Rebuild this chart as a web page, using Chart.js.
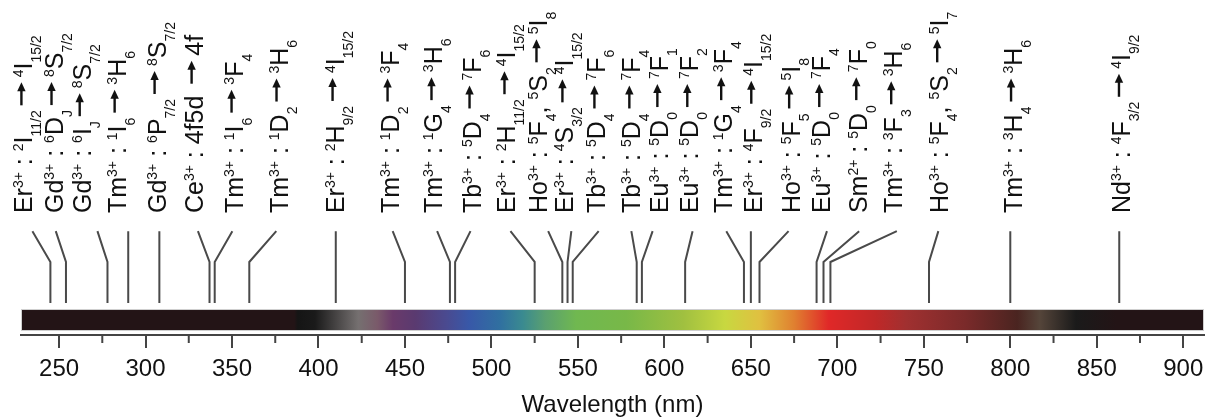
<!DOCTYPE html>
<html>
<head>
<meta charset="utf-8">
<title>Emission lines across the spectrum</title>
<script src="https://cdn.jsdelivr.net/npm/chart.js@4.4.1/dist/chart.umd.min.js"></script>
<style>
  html, body { margin: 0; padding: 0; background: #fff; }
  #wrap { width: 1205px; height: 420px; }
</style>
</head>
<body>
<div id="wrap"><canvas id="spectrum" width="1205" height="420"></canvas></div>
<script>
'use strict';

// ---- data ---------------------------------------------------------------
// ^{..} = superscript, _{..} = subscript
const transitionLabels = [
    'Er^{3+} : ^{2}I_{11/2} → ^{4}I_{15/2}',
    'Gd^{3+} : ^{6}D_{J} → ^{8}S_{7/2}',
    'Gd^{3+} : ^{6}I_{J} → ^{8}S_{7/2}',
    'Tm^{3+} : ^{1}I_{6} → ^{3}H_{6}',
    'Gd^{3+} : ^{6}P_{7/2} → ^{8}S_{7/2}',
    'Ce^{3+} : 4f5d → 4f',
    'Tm^{3+} : ^{1}I_{6} → ^{3}F_{4}',
    'Tm^{3+} : ^{1}D_{2} → ^{3}H_{6}',
    'Er^{3+} : ^{2}H_{9/2} → ^{4}I_{15/2}',
    'Tm^{3+} : ^{1}D_{2} → ^{3}F_{4}',
    'Tm^{3+} : ^{1}G_{4} → ^{3}H_{6}',
    'Tb^{3+} : ^{5}D_{4} → ^{7}F_{6}',
    'Er^{3+} : ^{2}H_{11/2} → ^{4}I_{15/2}',
    'Ho^{3+} : ^{5}F_{4}, ^{5}S_{2} → ^{5}I_{8}',
    'Er^{3+} : ^{4}S_{3/2} → ^{4}I_{15/2}',
    'Tb^{3+} : ^{5}D_{4} → ^{7}F_{6}',
    'Tb^{3+} : ^{5}D_{4} → ^{7}F_{4}',
    'Eu^{3+} : ^{5}D_{0} → ^{7}F_{1}',
    'Eu^{3+} : ^{5}D_{0} → ^{7}F_{2}',
    'Tm^{3+} : ^{1}G_{4} → ^{3}F_{4}',
    'Er^{3+} : ^{4}F_{9/2} → ^{4}I_{15/2}',
    'Ho^{3+} : ^{5}F_{5} → ^{5}I_{8}',
    'Eu^{3+} : ^{5}D_{0} → ^{7}F_{4}',
    'Sm^{2+} : ^{5}D_{0} → ^{7}F_{0}',
    'Tm^{3+} : ^{3}F_{3} → ^{3}H_{6}',
    'Ho^{3+} : ^{5}F_{4}, ^{5}S_{2} → ^{5}I_{7}',
    'Tm^{3+} : ^{3}H_{4} → ^{3}H_{6}',
    'Nd^{3+} : ^{4}F_{3/2} → ^{4}I_{9/2}'
];
// emission wavelength of each line (nm)
const transitionNm = [245, 254, 278, 290, 308, 337, 340, 360, 410, 450, 476, 479, 525, 541,
                      544, 547, 584, 587, 612, 646, 650, 655, 688, 692, 696, 753, 800, 863];
// wavelength where each leader line meets its label
const leaderTopNm = [234.6, 248.1, 272.2, 290, 308, 330.3, 350.2, 375.6, 410, 442.9, 468.6, 487.9, 511, 532.8,
                     546.2, 562, 580.9, 593.2, 616.3, 635.8, 650, 671.8, 694, 712.6, 734.4, 758.4, 800, 863];
// wavelength of each label's baseline
const labelNm = [234.6, 252.0, 268.3, 288.5, 311.6, 333.0, 356.1, 382.1, 414.5, 446.3, 471.7, 493.7, 513.9, 532.4,
                 547.4, 565.9, 586.1, 602.3, 619.6, 639.2, 656.6, 678.5, 695.9, 717.3, 737.5, 764.1, 806.8, 869.2];

const majorTicks = [250, 300, 350, 400, 450, 500, 550, 600, 650, 700, 750, 800, 850, 900];
const minorTicks = [275, 325, 375, 425, 475, 525, 575, 625, 675, 725, 775, 825, 875];
const axisMin = 228;
const axisMax = 912;

// colour band
const spectrumNm = [228, 386, 388, 398, 423, 434, 443, 456, 474, 487, 505, 518, 531, 549,
                    578, 611, 635, 655, 675, 695, 722, 740, 774, 804, 817, 838, 861, 912];
const spectrumColors = ['#231416', '#231416', '#151515', '#1a1a1a', '#757070', '#7a5a6a', '#6a3a6a',
                        '#5a3a70', '#4a4a90', '#3858a8', '#3070a0', '#3a8a90', '#5aa070', '#70b850',
                        '#78b848', '#a0c040', '#c8d840', '#e0c040', '#e08030', '#e02828', '#c02828',
                        '#a03030', '#7a2a2a', '#4a2420', '#55453a', '#1a1a1a', '#231416', '#231416'];

// ---- layout (percent of plot height, y axis hidden) ---------------------
const LEVEL = { label: 36.4, top: 31.0, bend: 21.8, foot: 9.55, barTop: 7.46, barBottom: 1.49 };
const FONT = '"Liberation Sans", Arial, Helvetica, sans-serif';
const INK = '#111';
const LEADER = '#4a4a4a';
const MAIN_PX = 25;
const SMALL_PX = 14;

// split "Er^{3+} : ..." into runs of normal / raised / lowered text and arrows
function parseRich(str) {
    const out = [];
    const re = /\^\{([^}]*)\}|_\{([^}]*)\}|( ?→ ?)|([^^_→]+)/g;
    let m;
    while ((m = re.exec(str))) {
        if (m[1] !== undefined) out.push({ t: m[1], shift: -9, small: true });
        else if (m[2] !== undefined) out.push({ t: m[2], shift: 9, small: true });
        else if (m[3] !== undefined) out.push({ arrow: true });
        else out.push({ t: m[4], shift: 0, small: false });
    }
    return out;
}

// long arrow like the figure's, drawn in the rotated text frame
function drawArrow(ctx, x0) {
    const y = -11;
    const len = 23;
    ctx.beginPath();
    ctx.moveTo(x0, y);
    ctx.lineTo(x0 + len - 6, y);
    ctx.lineWidth = 2.4;
    ctx.strokeStyle = INK;
    ctx.stroke();
    ctx.beginPath();
    ctx.moveTo(x0 + len, y);
    ctx.lineTo(x0 + len - 9, y - 4.2);
    ctx.lineTo(x0 + len - 9, y + 4.2);
    ctx.closePath();
    ctx.fill();
}

const spectrumBar = {
    id: 'spectrumBar',
    beforeDatasetsDraw(chart) {
        const { ctx, scales: { x, y } } = chart;
        const left = x.getPixelForValue(axisMin);
        const right = x.getPixelForValue(axisMax);
        const top = y.getPixelForValue(LEVEL.barTop);
        const bottom = y.getPixelForValue(LEVEL.barBottom);
        const grad = ctx.createLinearGradient(left, 0, right, 0);
        spectrumNm.forEach((nm, i) => {
            grad.addColorStop((nm - axisMin) / (axisMax - axisMin), spectrumColors[i]);
        });
        ctx.save();
        ctx.fillStyle = grad;
        ctx.fillRect(left, top, right - left, bottom - top);
        ctx.strokeStyle = '#cfcfcf';
        ctx.lineWidth = 1;
        ctx.strokeRect(left + 0.5, top - 0.5, right - left - 1, bottom - top + 1);
        ctx.restore();
    }
};

const minorTickMarks = {
    id: 'minorTickMarks',
    afterDraw(chart) {
        const { ctx, chartArea, scales: { x } } = chart;
        ctx.save();
        ctx.strokeStyle = '#444';
        ctx.lineWidth = 2;
        minorTicks.forEach(v => {
            const px = x.getPixelForValue(v);
            ctx.beginPath();
            ctx.moveTo(px, chartArea.bottom);
            ctx.lineTo(px, chartArea.bottom + 8);
            ctx.stroke();
        });
        ctx.restore();
    }
};

const richLabels = {
    id: 'richLabels',
    afterDatasetsDraw(chart) {
        const { ctx, scales: { x, y } } = chart;
        const base = y.getPixelForValue(LEVEL.label);
        ctx.save();
        ctx.fillStyle = INK;
        ctx.textBaseline = 'alphabetic';
        ctx.textAlign = 'left';
        transitionLabels.forEach((label, i) => {
            ctx.save();
            ctx.translate(x.getPixelForValue(labelNm[i]), base);
            ctx.rotate(-Math.PI / 2);
            let pos = 0;
            parseRich(label).forEach(seg => {
                if (seg.arrow) {
                    drawArrow(ctx, pos + 5);
                    pos += 33;
                    return;
                }
                ctx.font = (seg.small ? SMALL_PX : MAIN_PX) + 'px ' + FONT;
                ctx.fillText(seg.t, pos, seg.shift);
                pos += ctx.measureText(seg.t).width;
            });
            ctx.restore();
        });
        ctx.restore();
    }
};

const datasets = transitionNm.map((nm, i) => ({
    label: transitionLabels[i],
    data: [
        { x: leaderTopNm[i], y: LEVEL.top },
        { x: nm, y: LEVEL.bend },
        { x: nm, y: LEVEL.foot }
    ],
    showLine: true,
    borderColor: LEADER,
    borderWidth: 2,
    pointRadius: 0,
    tension: 0,
    fill: false
}));

new Chart(document.getElementById('spectrum').getContext('2d'), {
    type: 'scatter',
    data: { datasets },
    options: {
        responsive: false,
        animation: false,
        devicePixelRatio: 1,
        layout: { padding: { left: 21, right: 1, top: 0, bottom: 0 } },
        plugins: { legend: { display: false }, tooltip: { enabled: false } },
        scales: {
            x: {
                type: 'linear',
                min: axisMin,
                max: axisMax,
                afterBuildTicks(scale) { scale.ticks = majorTicks.map(v => ({ value: v })); },
                // keep the band full width and the axis line at the figure's height
                afterFit(scale) {
                    scale.paddingLeft = 0;
                    scale.paddingRight = 0;
                    scale.height = 85;
                },
                grid: { drawOnChartArea: false, drawTicks: true, tickLength: 13, color: '#444', lineWidth: 2 },
                border: { display: true, color: '#444', width: 2 },
                ticks: { color: INK, padding: 7, maxRotation: 0, autoSkip: false, font: { family: FONT, size: 24 } },
                title: {
                    display: true,
                    text: 'Wavelength (nm)',
                    color: INK,
                    padding: { top: 7, bottom: 0 },
                    font: { family: FONT, size: 24 }
                }
            },
            y: { type: 'linear', display: false, min: 0, max: 100 }
        }
    },
    plugins: [spectrumBar, minorTickMarks, richLabels]
});
</script>
</body>
</html>
